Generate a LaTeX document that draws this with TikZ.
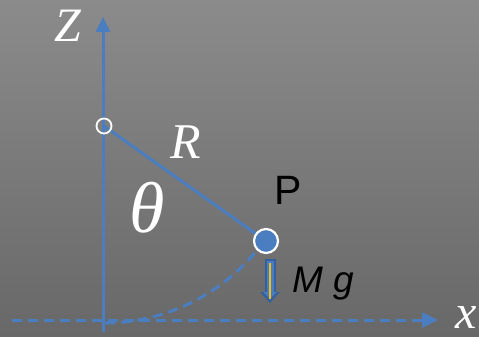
\documentclass[tikz,border=0pt]{standalone}
\usepackage{fontspec}
\setmainfont{Liberation Serif}
\newfontfamily\sansf{Liberation Sans}
\usetikzlibrary{arrows.meta}
\definecolor{axblue}{RGB}{74,126,193}
\definecolor{darkblue}{RGB}{52,96,160}
\definecolor{bgtop}{RGB}{139,139,139}
\definecolor{bgbot}{RGB}{104,104,104}
\definecolor{gyellow}{RGB}{240,190,20}
\begin{document}
\begin{tikzpicture}[x=1pt,y=-1pt,
  axis/.style={axblue,line width=3pt},
  dashline/.style={axblue,line width=3pt,dash pattern=on 10pt off 6pt},
  lbl/.style={inner sep=0pt,text=white,font=\itshape},
  blk/.style={inner sep=0pt,text=black,font=\sansf}]
\shade[top color=bgtop,bottom color=bgbot] (0,0) rectangle (479,337);
\useasboundingbox (0,0) rectangle (479,337);
% coordinates
\coordinate (zbot) at (103,332);
\coordinate (ztop) at (103,17);
\coordinate (xleft) at (12,320);
\coordinate (xright) at (438,320);
\coordinate (pc) at (104,126);
\coordinate (bc) at (266,241);
% dashed arc
\draw[dashline] (pc) ++(35.5:197) arc[start angle=35.5,end angle=90,radius=197];
% axes
\draw[axis,-{Triangle[width=14pt,length=15pt]}] (zbot) -- (ztop);
\draw[dashline,-{Triangle[width=15pt,length=16pt]}] (xleft) -- (xright);
% rod
\draw[axis] (pc) -- (bc);
% pivot and ball
\node[circle,draw=white,line width=1.8pt,minimum size=15pt,inner sep=0pt] (pivot) at (pc) {};
\node[circle,draw=white,fill=axblue,line width=2.2pt,minimum size=24pt,inner sep=0pt] (ball) at (bc) {};
% Mg arrow
\coordinate (gtop) at (270,259);
\coordinate (gbot) at (270,303);
\draw[darkblue,line width=11pt,-{Triangle[width=19pt,length=11pt]}] (gtop) -- (gbot);
\draw[axblue,line width=7pt,-{Triangle[width=13pt,length=7pt]}] (270,261) -- (270,299);
\draw[gyellow,line width=2pt] (270,263) -- (270,299);
% labels
\node[lbl,font=\itshape\fontsize{48}{48}\selectfont] (zl) at (68,26) {Z};
\node[lbl,font=\itshape\fontsize{48}{48}\selectfont] (xl) at (466,317) {x};
\node[lbl,font=\itshape\fontsize{50}{50}\selectfont] (rl) at (186,142) {R};
\node[lbl,font=\itshape\fontsize{72}{72}\selectfont] (tl) at (147,208) {θ};
\node[blk,font=\sansf\fontsize{41}{41}\selectfont] (pl) at (288,190) {P};
\node[blk,font=\sansf\itshape\fontsize{37}{37}\selectfont] (mg) at (323,284) {M\hspace{10pt}g};
\end{tikzpicture}
\end{document}
